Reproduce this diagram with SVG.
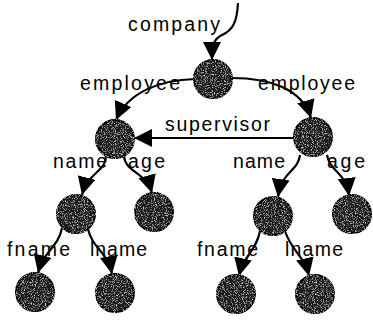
<svg xmlns="http://www.w3.org/2000/svg" width="373" height="320" viewBox="0 0 373 320">
<style>
.node{fill:#1e1e1e;stroke:#000;stroke-width:2;filter:url(#tex)}
.edge{fill:none;stroke:#000;stroke-width:2.2;marker-end:url(#ah)}
.lbl{font-family:"Liberation Sans",Arial,sans-serif;font-size:19.5px;fill:#000}
</style>
<defs>
<marker id="ah" markerUnits="userSpaceOnUse" markerWidth="19" markerHeight="18" refX="18" refY="9" orient="auto">
<path d="M0,0 L18,9 L0,18 z" fill="#000"/>
</marker>
<filter id="tex" x="-0.1" y="-0.1" width="1.2" height="1.2">
<feTurbulence type="fractalNoise" baseFrequency="0.9" numOctaves="2" seed="4" result="n"/>
<feColorMatrix in="n" type="matrix" values="0 0 0 0 0.75  0 0 0 0 0.75  0 0 0 0 0.75  3 0 0 0 -1.6" result="w"/>
<feComposite in="w" in2="SourceGraphic" operator="in" result="s"/>
<feMerge><feMergeNode in="SourceGraphic"/><feMergeNode in="s"/></feMerge>
</filter>
</defs>
<g id="connectors">
<path class="edge" d="M238,3 C237,22 233,30 222,35 C214,39 212,44 212,60"/>
<path class="edge" d="M195,79 C160,80 128,92 116,120"/>
<path class="edge" d="M232,78 C268,78 302,88 311,118"/>
<path class="edge" d="M294,138 L134,138"/>
<path class="edge" d="M106,156 C106,172 88,172 82,195"/>
<path class="edge" d="M124,156 C125,172 146,172 152,193"/>
<path class="edge" d="M300,155 C298,172 282,170 278,197"/>
<path class="edge" d="M327,155 C330,172 346,172 349,196"/>
<path class="edge" d="M62,228 C58,248 44,250 38,273"/>
<path class="edge" d="M88,229 C92,248 108,252 112,274"/>
<path class="edge" d="M260,231 C256,252 244,254 239,276"/>
<path class="edge" d="M285,231 C292,252 304,255 309,276"/>
</g>
<g id="root"><circle class="node" cx="213" cy="79" r="19"/></g>
<g id="employee1"><circle class="node" cx="115" cy="139" r="19"/></g>
<g id="employee2"><circle class="node" cx="313" cy="137" r="19"/></g>
<g id="name1"><circle class="node" cx="76" cy="214" r="19"/></g>
<g id="age1"><circle class="node" cx="154" cy="212" r="19"/></g>
<g id="name2"><circle class="node" cx="273" cy="216" r="19"/></g>
<g id="age2"><circle class="node" cx="352" cy="214" r="19"/></g>
<g id="fname1"><circle class="node" cx="35" cy="292" r="19"/></g>
<g id="lname1"><circle class="node" cx="115" cy="293" r="19"/></g>
<g id="fname2"><circle class="node" cx="236" cy="294" r="19"/></g>
<g id="lname2"><circle class="node" cx="315" cy="294" r="19"/></g>
<g id="labels">
<text class="lbl" x="128" y="31" textLength="92" lengthAdjust="spacing">company</text>
<text class="lbl" x="80" y="90" textLength="100" lengthAdjust="spacing">employee</text>
<text class="lbl" x="258" y="90" textLength="97" lengthAdjust="spacing">employee</text>
<text class="lbl" x="165" y="131" textLength="105" lengthAdjust="spacing">supervisor</text>
<text class="lbl" x="53" y="168" textLength="54" lengthAdjust="spacing">name</text>
<text class="lbl" x="128" y="168" textLength="37" lengthAdjust="spacing">age</text>
<text class="lbl" x="233" y="168" textLength="52" lengthAdjust="spacing">name</text>
<text class="lbl" x="327" y="168" textLength="38" lengthAdjust="spacing">age</text>
<text class="lbl" x="7" y="256" textLength="63" lengthAdjust="spacing">fname</text>
<text class="lbl" x="90" y="256" textLength="57" lengthAdjust="spacing">lname</text>
<text class="lbl" x="197" y="256" textLength="61" lengthAdjust="spacing">fname</text>
<text class="lbl" x="285" y="256" textLength="58" lengthAdjust="spacing">lname</text>
</g>
</svg>
